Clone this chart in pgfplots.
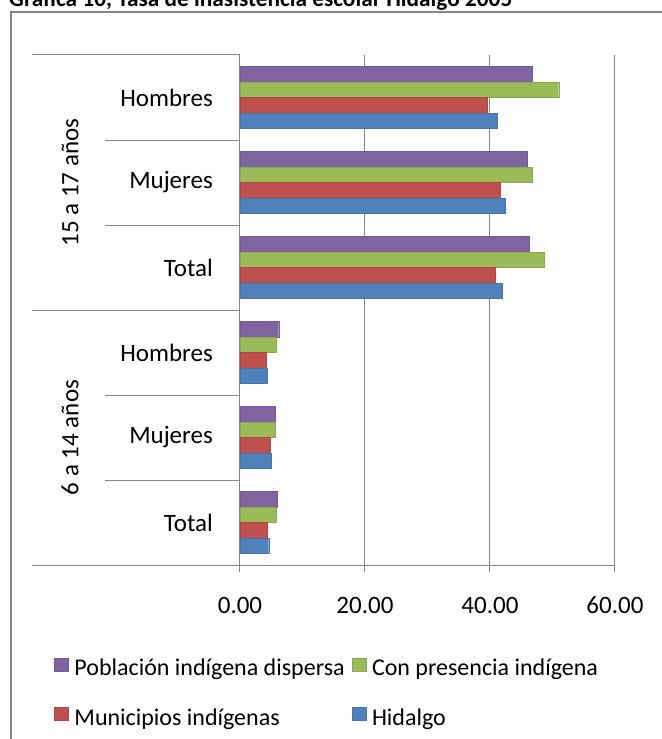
\documentclass[border=0pt]{standalone}
\usepackage{fontspec}
\setmainfont{Carlito}
\usepackage{pgfplots}
\pgfplotsset{compat=1.18}

\definecolor{cPur}{HTML}{8064A2}
\definecolor{cGrn}{HTML}{9BBB59}
\definecolor{cRed}{HTML}{C0504D}
\definecolor{cBlu}{HTML}{4F81BD}
\definecolor{cAx}{HTML}{868686}

\begin{document}
\begin{tikzpicture}
\begin{axis}[
    xbar,
    scale only axis,
    width=375bp, height=510bp,
    xmin=0, xmax=60, ymin=-0.5, ymax=5.5,
    axis x line=bottom, axis y line=left,
    axis line style={-, draw=cAx, line width=1bp},
    xmajorgrids, grid style={draw=cAx, line width=1bp},
    xtick={0,20,40,60},
    tick align=outside,
    major tick length=7bp,
    xtick style={draw=cAx, line width=1bp},
    ytick={0,1,2,3,4,5},
    ytick style={draw=none},
    yticklabels={Total,Mujeres,Hombres,Total,Mujeres,Hombres},
    yticklabel style={anchor=east, inner sep=0pt, xshift=-20bp},
    xticklabel style={anchor=base, inner sep=0pt, yshift=-41bp,
        /pgf/number format/fixed, /pgf/number format/fixed zerofill,
        /pgf/number format/precision=2, /pgf/number format/assume math mode=true},
    ticklabel style={font=\fontsize{25bp}{30bp}\selectfont},
    bar width=15.5bp,
    clip=false,
    legend columns=2,
    legend cell align=left,
    legend style={draw=none, fill=none, inner sep=0pt, at={(-0.496,-0.1824)}, anchor=north west,
        font=\fontsize{24bp}{29bp}\selectfont, row sep=30bp,
        nodes={inner sep=0pt},
        /tikz/every odd column/.append style={column sep=6bp},
        /tikz/every even column/.append style={column sep=7bp}},
    legend image code/.code={\fill[#1] (0bp,-3bp) rectangle (14bp,10bp);},
]
\addplot[fill=cPur, draw=cPur!90!black, line width=0.3bp, bar shift=23.25bp] coordinates
    {(46.7,5) (45.9,4) (46.3,3) (6.2,2) (5.6,1) (6.0,0)};
\addplot[fill=cGrn, draw=cGrn!90!black, line width=0.3bp, bar shift=7.75bp] coordinates
    {(51.0,5) (46.8,4) (48.7,3) (5.8,2) (5.6,1) (5.8,0)};
\addplot[fill=cRed, draw=cRed!90!black, line width=0.3bp, bar shift=-7.75bp] coordinates
    {(39.6,5) (41.7,4) (40.8,3) (4.2,2) (4.8,1) (4.4,0)};
\addplot[fill=cBlu, draw=cBlu!90!black, line width=0.3bp, bar shift=-23.25bp] coordinates
    {(41.2,5) (42.5,4) (41.9,3) (4.4,2) (5.0,1) (4.6,0)};
\legend{Población indígena dispersa, Con presencia indígena, Municipios indígenas, Hidalgo}

% category separators
\draw[cAx, line width=1bp] (axis cs:0,-0.5) -- ++(-208bp,0bp);
\draw[cAx, line width=1bp] (axis cs:0,2.5) -- ++(-208bp,0bp);
\draw[cAx, line width=1bp] (axis cs:0,5.5) -- ++(-208bp,0bp);
\draw[cAx, line width=1bp] (axis cs:0,0.5) -- ++(-135bp,0bp);
\draw[cAx, line width=1bp] (axis cs:0,1.5) -- ++(-135bp,0bp);
\draw[cAx, line width=1bp] (axis cs:0,3.5) -- ++(-135bp,0bp);
\draw[cAx, line width=1bp] (axis cs:0,4.5) -- ++(-135bp,0bp);
\node[rotate=90, font=\fontsize{25bp}{30bp}\selectfont] at ([xshift=-170bp]axis cs:0,4) {15 a 17 años};
\node[rotate=90, font=\fontsize{25bp}{30bp}\selectfont] at ([xshift=-170bp]axis cs:0,1) {6 a 14 años};
\end{axis}
\draw[cAx, line width=1.5bp] (-229bp,-180bp) -- (-229bp,553bp) -- (430bp,553bp);
\node[anchor=base west, inner sep=0pt, font=\bfseries\fontsize{23.3bp}{28bp}\selectfont] at (-231bp,558bp) {Gráfica 10, Tasa de inasistencia escolar Hidalgo 2005};
\pgfresetboundingbox
\useasboundingbox (-240bp,-174bp) rectangle (422bp,565bp);
\end{tikzpicture}
\end{document}
